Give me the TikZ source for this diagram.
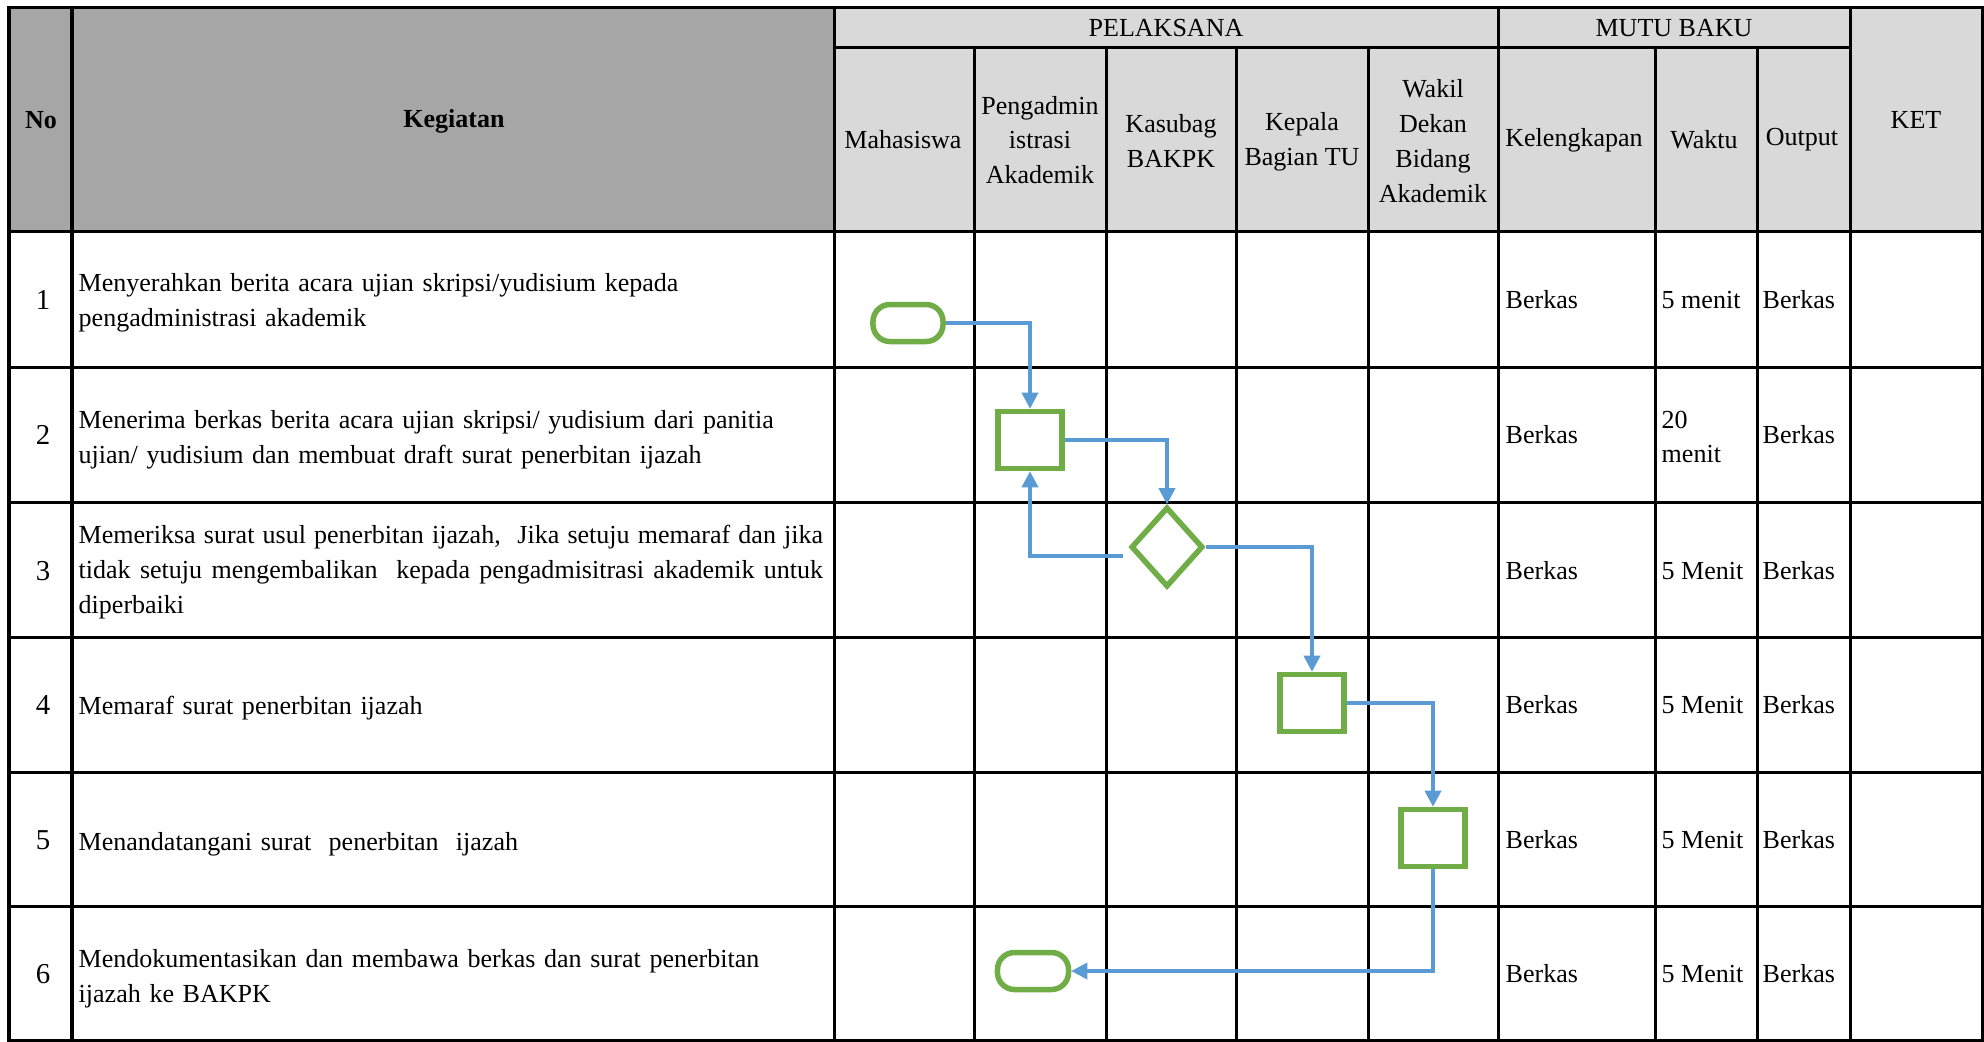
\documentclass[tikz,border=0pt]{standalone}
\usepackage{fontspec}
\setmainfont{Liberation Serif}
\usepackage{tikz}
\usetikzlibrary{arrows.meta}
\usetikzlibrary{positioning}
\usetikzlibrary{shapes.geometric}

\definecolor{headdark}{HTML}{A6A6A6}
\definecolor{headlight}{HTML}{D9D9D9}
\definecolor{flowgreen}{HTML}{70AD47}
\definecolor{flowblue}{HTML}{5B9BD5}

\begin{document}
\begin{tikzpicture}[
		x=0.01cm,
		y=-0.01cm,
		>={Triangle[length=0.16cm,width=0.16cm]},
		font=\fontsize{7.4}{9.9}\selectfont,
		grid line/.style={line width=0.03cm, black},
		head text/.style={align=center, inner sep=0pt},
		num text/.style={head text, font=\fontsize{8.2}{9.9}\selectfont},
		task text/.style={anchor=west, text width=7.44cm, align=left, inner sep=0pt},
		mutu text/.style={anchor=west, align=left, inner sep=0pt},
		process box/.style={
			draw=flowgreen,
			line width=0.055cm,
			fill=white,
			minimum width=0.64cm,
			minimum height=0.57cm,
			inner sep=0pt
		},
		terminal box/.style={process box, rounded corners=0.17cm, minimum width=0.70cm, minimum height=0.37cm},
		decision box/.style={process box, diamond, minimum width=0.72cm, minimum height=0.80cm},
		flow line/.style={->, flowblue, line width=0.035cm},
		hv path/.style={to path={-| (\tikztotarget)}},
		vh path/.style={to path={|- (\tikztotarget)}}
		]
		
		\useasboundingbox (0,0) rectangle (1984,1041);
		\fill[white] (0,0) rectangle (1984,1041);
		\fill[headdark] (9,7) rectangle (834,231);
		\fill[headlight] (834,7) rectangle (1982,231);
		
		% table grid
		\draw[grid line] (9,7) rectangle (1982,1040);
		\draw[grid line] (834,47) -- (1850,47);
		\draw[grid line] (9,231) -- (1982,231);
		\draw[grid line] (9,367) -- (1982,367);
		\draw[grid line] (9,502) -- (1982,502);
		\draw[grid line] (9,637) -- (1982,637);
		\draw[grid line] (9,772) -- (1982,772);
		\draw[grid line] (9,906) -- (1982,906);
		\draw[grid line] (72,7) -- (72,1040);
		\draw[grid line] (834,7) -- (834,1040);
		\draw[grid line] (974,47) -- (974,1040);
		\draw[grid line] (1106,47) -- (1106,1040);
		\draw[grid line] (1236,47) -- (1236,1040);
		\draw[grid line] (1368,47) -- (1368,1040);
		\draw[grid line] (1498,7) -- (1498,1040);
		\draw[grid line] (1655,47) -- (1655,1040);
		\draw[grid line] (1757,47) -- (1757,1040);
		\draw[grid line] (1850,7) -- (1850,1040);
		
		% header
		\node[head text] (no) at (41,120) {\textbf{No}};
		\node[head text] (kegiatan) at (454,121) {\textbf{Kegiatan}};
		\node[head text] (pelaksana) at (1166,28) {PELAKSANA};
		\node[head text] (mutubaku) at (1674,28) {MUTU BAKU};
		\node[head text] (ket) at (1916,120) {KET};
		\node[head text] (mhs) at (903,140) {Mahasiswa};
		\node[head text] (pengadm) at (1040,140) {Pengadmin\\istrasi\\Akademik};
		\node[head text] (kasubag) at (1171,141) {Kasubag\\BAKPK};
		\node[head text] (kabag) at (1302,142) {Kepala\\Bagian TU};
		\node[head text] (wadek) at (1433,141) {Wakil\\Dekan\\Bidang\\Akademik};
		\node[head text] (lengkap) at (1574,140) {Kelengkapan};
		\node[head text] (waktu) at (1704,140) {Waktu};
		\node[head text] (output) at (1802,140) {Output};
		
		% rows
		\node[num text] (no1) at (43,300) {1};
		\node[num text] (no2) at (43,435) {2};
		\node[num text] (no3) at (43,571) {3};
		\node[num text] (no4) at (43,705) {4};
		\node[num text] (no5) at (43,840) {5};
		\node[num text] (no6) at (43,974) {6};
		\node[task text] (tugas1) at (78,303) {Menyerahkan berita acara ujian skripsi/yudisium kepada\\pengadministrasi akademik};
		\node[task text] (tugas2) at (78,440) {Menerima berkas berita acara ujian skripsi/ yudisium dari panitia\\ujian/ yudisium dan membuat draft surat penerbitan ijazah};
		\node[task text, align=justify] (tugas3) at (78,572) {Memeriksa surat usul penerbitan ijazah, \ Jika setuju memaraf dan jika\linebreak tidak setuju mengembalikan \ kepada pengadmisitrasi akademik untuk\linebreak diperbaiki};
		\node[task text] (tugas4) at (78,708) {Memaraf surat penerbitan ijazah};
		\node[task text] (tugas5) at (78,844) {Menandatangani surat \ penerbitan \ ijazah};
		\node[task text] (tugas6) at (78,979) {Mendokumentasikan dan membawa berkas dan surat penerbitan\\ijazah ke BAKPK};
		
		\node[mutu text] (lengkap1) at (1505,300) {Berkas};
		\node[mutu text] (lengkap2) at (1505,435) {Berkas};
		\node[mutu text] (lengkap3) at (1505,571) {Berkas};
		\node[mutu text] (lengkap4) at (1505,705) {Berkas};
		\node[mutu text] (lengkap5) at (1505,840) {Berkas};
		\node[mutu text] (lengkap6) at (1505,974) {Berkas};
		\node[mutu text] (waktu1) at (1661,300) {5 menit};
		\node[mutu text] (waktu2) at (1661,437) {20\\menit};
		\node[mutu text] (waktu3) at (1661,571) {5 Menit};
		\node[mutu text] (waktu4) at (1661,705) {5 Menit};
		\node[mutu text] (waktu5) at (1661,840) {5 Menit};
		\node[mutu text] (waktu6) at (1661,974) {5 Menit};
		\node[mutu text] (output1) at (1762,300) {Berkas};
		\node[mutu text] (output2) at (1762,435) {Berkas};
		\node[mutu text] (output3) at (1762,571) {Berkas};
		\node[mutu text] (output4) at (1762,705) {Berkas};
		\node[mutu text] (output5) at (1762,840) {Berkas};
		\node[mutu text] (output6) at (1762,974) {Berkas};
		
		% flow
		\node[terminal box] (mulai) at (908,323) {};
		\node[process box] (terima) at (1030,440) {};
		\node[decision box] (periksa) at (1167,547) {};
		\node[process box] (paraf) at (1312,703) {};
		\node[process box] (tandatangan) at (1433,838) {};
		\node[terminal box, minimum width=0.71cm] (selesai) at (1033,971) {};
		\coordinate (balik) at ([shift={(-5,9)}]periksa.west);
		
		\path[flow line]
		(mulai) edge[hv path] (terima)
		(terima) edge[hv path] (periksa)
		(balik) edge[hv path] (terima)
		(periksa) edge[hv path] (paraf)
		(paraf) edge[hv path] (tandatangan)
		(tandatangan) edge[vh path] (selesai);
	\end{tikzpicture}
\end{document}
